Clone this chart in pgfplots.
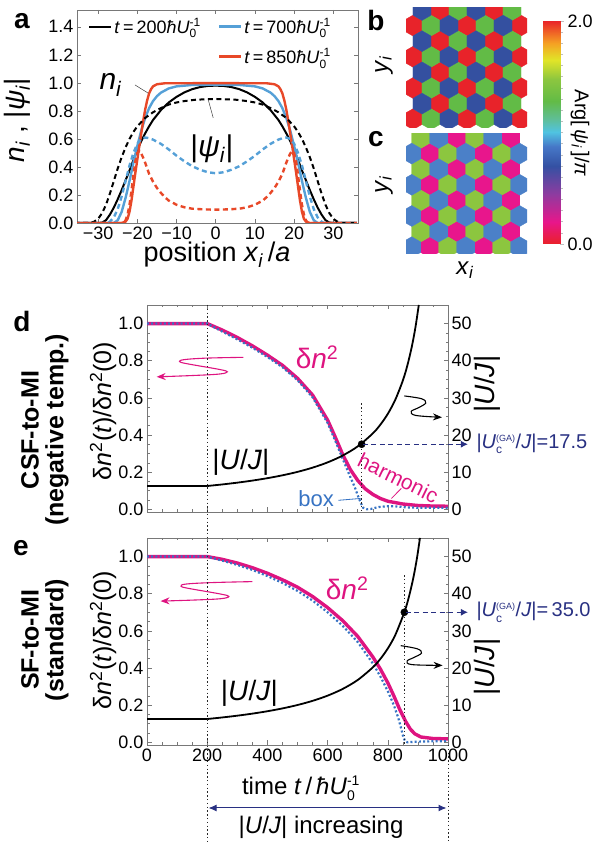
\documentclass[border=0pt]{standalone}
\usepackage{fontspec}
\setmainfont{Liberation Sans}
\usepackage{amsmath}
\usepackage{pgfplots}
\pgfplotsset{compat=1.18}
\usepackage{pgfplotstable}
\usetikzlibrary{arrows.meta}

\definecolor{cblue}{RGB}{85,160,215}
\definecolor{cred}{RGB}{232,72,40}
\definecolor{cmag}{RGB}{222,20,128}
\definecolor{cbox}{RGB}{55,115,195}
\definecolor{navy}{RGB}{40,48,130}
\definecolor{hR}{RGB}{232,35,42}
\definecolor{hG}{RGB}{98,187,70}
\definecolor{hB}{RGB}{52,80,160}
\definecolor{cP}{RGB}{232,22,140}
\definecolor{cL}{RGB}{140,198,63}
\definecolor{cB}{RGB}{75,128,200}
\definecolor{frame}{RGB}{120,120,120}

\newcommand{\fs}[1]{\fontsize{#1}{#1}\selectfont}
\newcommand{\hbarU}[1]{\textit{ħU}${}^{\text{\fs{#1}-1}}_{\text{\fs{#1}0}}$}

\pgfdeclareplotmark{hexa}{%
\pgfpathmoveto{\pgfqpointpolar{90}{\pgfplotmarksize}}%
\pgfpathlineto{\pgfqpointpolar{150}{\pgfplotmarksize}}%
\pgfpathlineto{\pgfqpointpolar{210}{\pgfplotmarksize}}%
\pgfpathlineto{\pgfqpointpolar{270}{\pgfplotmarksize}}%
\pgfpathlineto{\pgfqpointpolar{330}{\pgfplotmarksize}}%
\pgfpathlineto{\pgfqpointpolar{30}{\pgfplotmarksize}}%
\pgfpathclose\pgfusepathqfillstroke}

\pgfplotsset{
  colormap={phase}{rgb255(0pt)=(233,33,41); rgb255(20pt)=(232,22,138); rgb255(45pt)=(140,60,160); rgb255(70pt)=(52,81,163); rgb255(88pt)=(70,120,200); rgb255(100pt)=(80,195,225); rgb255(112pt)=(95,190,150); rgb255(128pt)=(98,187,70); rgb255(148pt)=(140,198,63); rgb255(165pt)=(225,228,40); rgb255(180pt)=(245,160,35); rgb255(200pt)=(233,36,41)},
  /pgf/number format/assume math mode=true,
  /pgf/number format/1000 sep={},
  every tick label/.append style={font=\fs{18}},
  every axis/.append style={axis line style={frame, line width=0.6pt}, tick style={frame, line width=0.5pt}},
}

% panel a data
\pgfplotstableread{
x y
-36 0
-30 0
-29 0.003
-28 0.02
-27 0.06
-26 0.11
-25 0.17
-24 0.235
-23 0.305
-22 0.375
-21 0.45
-20 0.52
-19 0.585
-18 0.64
-17 0.69
-16 0.735
-14 0.805
-12 0.86
-10 0.9
-8 0.932
-6 0.955
-4 0.97
-2 0.978
0 0.98
2 0.978
4 0.97
6 0.955
8 0.932
10 0.9
12 0.86
14 0.805
16 0.735
17 0.69
18 0.64
19 0.585
20 0.52
21 0.45
22 0.375
23 0.305
24 0.235
25 0.17
26 0.11
27 0.06
28 0.02
29 0.003
30 0
36 0
}\nA
\pgfplotstableread{
x y
-36 0
-32 0
-31 0.01
-30 0.03
-29 0.07
-28 0.13
-27 0.21
-26 0.3
-25 0.39
-24 0.47
-23 0.54
-22 0.6
-21 0.65
-20 0.69
-19 0.72
-18 0.75
-16 0.79
-14 0.82
-12 0.845
-10 0.86
-8 0.87
-5 0.88
0 0.885
5 0.88
8 0.87
10 0.86
12 0.845
14 0.82
16 0.79
18 0.75
19 0.72
20 0.69
21 0.65
22 0.6
23 0.54
24 0.47
25 0.39
26 0.3
27 0.21
28 0.13
29 0.07
30 0.03
31 0.01
32 0
36 0
}\pA
\pgfplotstableread{
x y
-36 0
-26 0
-25 0.02
-24 0.08
-23 0.18
-22 0.3
-21 0.43
-20 0.55
-19 0.66
-18 0.75
-17 0.82
-16 0.87
-15 0.905
-14 0.93
-12 0.96
-10 0.975
-6 0.985
0 0.987
6 0.985
10 0.975
12 0.96
14 0.93
15 0.905
16 0.87
17 0.82
18 0.75
19 0.66
20 0.55
21 0.43
22 0.3
23 0.18
24 0.08
25 0.02
26 0
36 0
}\nB
\pgfplotstableread{
x y
-36 0
-27.5 0
-27 0.01
-26 0.04
-25 0.1
-24 0.19
-23 0.3
-22 0.41
-21 0.5
-20 0.565
-19 0.6
-18 0.61
-17 0.605
-16 0.595
-14 0.565
-12 0.525
-10 0.48
-8 0.44
-6 0.405
-4 0.38
-2 0.362
0 0.355
2 0.362
4 0.38
6 0.405
8 0.44
10 0.48
12 0.525
14 0.565
16 0.595
17 0.605
18 0.61
19 0.6
20 0.565
21 0.5
22 0.41
23 0.3
24 0.19
25 0.1
26 0.04
27 0.01
27.5 0
36 0
}\pB
\pgfplotstableread{
x y
-36 0
-24 0
-23 0.01
-22.5 0.03
-22 0.08
-21.5 0.16
-21 0.26
-20.5 0.36
-20 0.455
-19.5 0.55
-19 0.64
-18.5 0.73
-18 0.81
-17.5 0.875
-17 0.925
-16.5 0.955
-16 0.975
-15 0.99
-13 0.997
0 0.998
13 0.997
15 0.99
16 0.975
16.5 0.955
17 0.925
17.5 0.875
18 0.81
18.5 0.73
19 0.64
19.5 0.55
20 0.455
20.5 0.36
21 0.26
21.5 0.16
22 0.08
22.5 0.03
23 0.01
24 0
36 0
}\nC
\pgfplotstableread{
x y
-36 0
-23.5 0
-23 0.02
-22.5 0.06
-22 0.13
-21.5 0.23
-21 0.34
-20.5 0.44
-20 0.5
-19.5 0.515
-19 0.495
-18.5 0.465
-18 0.43
-17 0.35
-16 0.295
-15 0.25
-14 0.215
-13 0.185
-12 0.16
-10 0.13
-8 0.112
-6 0.102
-3 0.097
0 0.095
3 0.097
6 0.102
8 0.112
10 0.13
12 0.16
13 0.185
14 0.215
15 0.25
16 0.295
17 0.35
18 0.43
18.5 0.465
19 0.495
19.5 0.515
20 0.5
20.5 0.44
21 0.34
21.5 0.23
22 0.13
22.5 0.06
23 0.02
23.5 0
36 0
}\pC

% panel d data
\pgfplotstableread{
t v
0 1
200 1
250 0.965
300 0.925
350 0.88
400 0.83
450 0.775
500 0.705
550 0.615
600 0.48
625 0.39
650 0.295
675 0.215
700 0.155
725 0.11
750 0.08
775 0.058
800 0.043
850 0.028
900 0.02
950 0.017
1000 0.016
}\magD
\pgfplotstableread{
t v
0 1
200 1
250 0.957
300 0.915
350 0.87
400 0.82
450 0.765
500 0.695
550 0.603
600 0.465
625 0.37
650 0.272
675 0.175
690 0.12
700 0.075
710 0.035
718 0.008
730 0.0
745 0.002
770 0.012
800 0.016
830 0.015
860 0.01
900 0.008
1000 0.008
}\boxD
\pgfplotstableread{
t u
200 6.25
250 6.671
300 7.152
350 7.709
400 8.358
450 9.128
500 10.053
550 11.189
600 12.611
650 14.451
700 16.915
750 20.398
775 22.735
800 25.678
825 29.502
850 34.66
865 38.72
880 43.86
892 49.07
902.9 55.01
}\ujD

% panel e data
\pgfplotstableread{
t v
0 1
200 1
250 0.985
300 0.965
350 0.94
400 0.91
450 0.875
500 0.835
550 0.785
600 0.725
650 0.655
700 0.57
750 0.46
775 0.395
800 0.32
820 0.25
840 0.175
860 0.11
875 0.07
890 0.045
910 0.028
950 0.02
1000 0.018
}\magE
\pgfplotstableread{
t v
0 1
200 1
250 0.978
300 0.955
350 0.928
400 0.895
450 0.858
500 0.815
550 0.763
600 0.7
650 0.627
700 0.54
750 0.425
775 0.355
800 0.275
820 0.2
835 0.13
845 0.07
852 0.025
858 0.005
865 0
900 0.003
950 0.005
1000 0.005
}\boxE
\pgfplotstableread{
t u
200 6.25
250 6.668
300 7.146
350 7.698
400 8.342
450 9.104
500 10.019
550 11.139
600 12.540
650 14.345
700 16.756
750 20.142
775 22.409
800 25.242
825 28.908
855 35.00
870 39.11
885 44.33
897 49.64
906.8 55.01
}\ujE

\tikzset{vdot/.style={black!85, line width=0.8pt, dash pattern=on 1.4pt off 2.4pt}}

\begin{document}
\begin{tikzpicture}
\useasboundingbox (0pt,0pt) rectangle (601pt,842pt);

%================ panel a
\begin{axis}[at={(77pt,619pt)}, anchor=south west, scale only axis, width=281pt, height=213pt,
  xmin=-35.4, xmax=36.3, ymin=0, ymax=1.52,
  xtick={-30,-20,-10,0,10,20,30}, xticklabels={−30,−20,−10,0,10,20,30},
  ytick={0,0.2,0.4,0.6,0.8,1.0,1.2,1.4},
  yticklabel style={/pgf/number format/.cd,fixed,fixed zerofill,precision=1},
  major tick length=4pt, clip mode=individual,
  legend columns=2,
  legend style={at={(axis description cs:0.04,0.97)}, anchor=north west, draw=none, fill=none, font=\fs{18}, inner sep=0pt, row sep=10pt, /tikz/every even column/.append style={column sep=15pt}},
  legend image code/.code={\draw[#1] (0pt,0pt) -- (22pt,0pt);},
]
\addplot[black, line width=2pt] table {\nA};
\addlegendentry{\textit{t}\,=\,200\hbarU{12}}
\addplot[cblue, line width=2.4pt] table {\nB};
\addlegendentry{\textit{t}\,=\,700\hbarU{12}}
\addlegendimage{empty legend}\addlegendentry{}
\addplot[cred, line width=2.4pt] table {\nC};
\addlegendentry{\textit{t}\,=\,850\hbarU{12}}
\addplot[black, line width=2pt, dash pattern=on 5pt off 3.5pt, forget plot] table {\pA};
\addplot[cblue, line width=2.4pt, dash pattern=on 5pt off 3.5pt, forget plot] table {\pB};
\addplot[cred, line width=2.4pt, dash pattern=on 5pt off 3.5pt, forget plot] table {\pC};
\draw[black!75, line width=0.5pt] (-20.6,0.985) -- (-17.2,0.926);
\node[font=\fs{30}] at (-26.8,0.985) {\textit{n}\textsubscript{\textit{i}}};
\draw[black!75, line width=0.5pt] (-0.64,0.75) -- (-1.9,0.878);
\node[font=\fs{30}] at (-1,0.53) {|\textit{ψ}\textsubscript{\textit{i}}|};
\end{axis}

%================ panel b
\begin{scope}
\clip (406pt,714pt) rectangle (527pt,834pt);
\begin{axis}[at={(406pt,714pt)}, anchor=south west, scale only axis, width=121pt, height=120pt,
  xmin=0, xmax=121, ymin=0, ymax=120, hide axis, clip=true]
\addplot[only marks, mark=hexa, mark size=10.45pt, mark options={fill=hR, draw=hR, line width=0.3pt}] coordinates {
(34,118)(88,118)(34,86.8)(88,86.8)(34,55.6)(88,55.6)(34,24.4)(88,24.4)(34,-6.8)(88,-6.8)
(7,102.4)(61,102.4)(115,102.4)(7,71.2)(61,71.2)(115,71.2)(7,40)(61,40)(115,40)(7,8.8)(61,8.8)(115,8.8)};
\addplot[only marks, mark=hexa, mark size=10.45pt, mark options={fill=hG, draw=hG, line width=0.3pt}] coordinates {
(-2,118)(52,118)(106,118)(-2,86.8)(52,86.8)(106,86.8)(-2,55.6)(52,55.6)(106,55.6)(-2,24.4)(52,24.4)(106,24.4)(-2,-6.8)(52,-6.8)(106,-6.8)
(25,102.4)(79,102.4)(25,71.2)(79,71.2)(25,40)(79,40)(25,8.8)(79,8.8)};
\addplot[only marks, mark=hexa, mark size=10.45pt, mark options={fill=hB, draw=hB, line width=0.3pt}] coordinates {
(16,118)(70,118)(124,118)(16,86.8)(70,86.8)(124,86.8)(16,55.6)(70,55.6)(124,55.6)(16,24.4)(70,24.4)(124,24.4)(16,-6.8)(70,-6.8)(124,-6.8)
(43,102.4)(97,102.4)(43,71.2)(97,71.2)(43,40)(97,40)(43,8.8)(97,8.8)};
\end{axis}
\end{scope}

%================ panel c
\begin{scope}
\clip (406pt,588pt) rectangle (527pt,708pt);
\begin{axis}[at={(406pt,588pt)}, anchor=south west, scale only axis, width=121pt, height=120pt,
  xmin=0, xmax=121, ymin=0, ymax=120, hide axis, clip=true]
\addplot[only marks, mark=hexa, mark size=10.45pt, mark options={fill=cP, draw=cP, line width=0.3pt}] coordinates {
(-3.3,116)(50.7,116)(104.7,116)(-3.3,84.8)(50.7,84.8)(104.7,84.8)(-3.3,53.6)(50.7,53.6)(104.7,53.6)(-3.3,22.4)(50.7,22.4)(104.7,22.4)(-3.3,-8.8)(50.7,-8.8)(104.7,-8.8)
(23.7,100.4)(77.7,100.4)(23.7,69.2)(77.7,69.2)(23.7,38)(77.7,38)(23.7,6.8)(77.7,6.8)};
\addplot[only marks, mark=hexa, mark size=10.45pt, mark options={fill=cL, draw=cL, line width=0.3pt}] coordinates {
(14.7,116)(68.7,116)(122.7,116)(14.7,84.8)(68.7,84.8)(122.7,84.8)(14.7,53.6)(68.7,53.6)(122.7,53.6)(14.7,22.4)(68.7,22.4)(122.7,22.4)(14.7,-8.8)(68.7,-8.8)(122.7,-8.8)
(41.7,100.4)(95.7,100.4)(41.7,69.2)(95.7,69.2)(41.7,38)(95.7,38)(41.7,6.8)(95.7,6.8)};
\addplot[only marks, mark=hexa, mark size=10.45pt, mark options={fill=cB, draw=cB, line width=0.3pt}] coordinates {
(32.7,116)(86.7,116)(32.7,84.8)(86.7,84.8)(32.7,53.6)(86.7,53.6)(32.7,22.4)(86.7,22.4)(32.7,-8.8)(86.7,-8.8)
(5.7,100.4)(59.7,100.4)(113.7,100.4)(5.7,69.2)(59.7,69.2)(113.7,69.2)(5.7,38)(59.7,38)(113.7,38)(5.7,6.8)(59.7,6.8)(113.7,6.8)};
\end{axis}
\end{scope}

%================ colorbar
\begin{axis}[at={(543pt,598pt)}, anchor=south west, scale only axis, width=17pt, height=223pt,
  xmin=0, xmax=1, ymin=0, ymax=2, axis line style={draw=none},
  xtick=\empty, ytick={0,2}, yticklabels={0.0,2.0},
  minor ytick={0.1,0.2,0.3,0.4,0.5,0.6,0.7,0.8,0.9,1.0,1.1,1.2,1.3,1.4,1.5,1.6,1.7,1.8,1.9},
  ytick pos=right, yticklabel pos=right, tick align=outside,
  major tick length=4pt, minor tick length=3pt,
  tick style={black!25, line width=0.5pt},
  colormap name=phase, point meta min=0, point meta max=2]
\addplot[patch, patch type=rectangle, shader=interp, point meta=y] coordinates {
(0,0)(1,0)(1,0.1)(0,0.1) (0,0.1)(1,0.1)(1,0.2)(0,0.2) (0,0.2)(1,0.2)(1,0.3)(0,0.3) (0,0.3)(1,0.3)(1,0.4)(0,0.4)
(0,0.4)(1,0.4)(1,0.5)(0,0.5) (0,0.5)(1,0.5)(1,0.6)(0,0.6) (0,0.6)(1,0.6)(1,0.7)(0,0.7) (0,0.7)(1,0.7)(1,0.8)(0,0.8)
(0,0.8)(1,0.8)(1,0.9)(0,0.9) (0,0.9)(1,0.9)(1,1.0)(0,1.0) (0,1.0)(1,1.0)(1,1.1)(0,1.1) (0,1.1)(1,1.1)(1,1.2)(0,1.2)
(0,1.2)(1,1.2)(1,1.3)(0,1.3) (0,1.3)(1,1.3)(1,1.4)(0,1.4) (0,1.4)(1,1.4)(1,1.5)(0,1.5) (0,1.5)(1,1.5)(1,1.6)(0,1.6)
(0,1.6)(1,1.6)(1,1.7)(0,1.7) (0,1.7)(1,1.7)(1,1.8)(0,1.8) (0,1.8)(1,1.8)(1,1.9)(0,1.9) (0,1.9)(1,1.9)(1,2.0)(0,2.0)};
\end{axis}

%================ panel d (left scale)
\begin{axis}[at={(147pt,330pt)}, anchor=south west, scale only axis, width=301pt, height=207pt,
  xmin=0, xmax=1000, ymin=-0.015, ymax=1.1,
  xtick={0,200,400,600,800,1000}, xticklabels={}, minor x tick num=3,
  ytick={0,0.2,0.4,0.6,0.8,1.0}, minor y tick num=3,
  yticklabel style={/pgf/number format/.cd,fixed,fixed zerofill,precision=1},
  major tick length=4.5pt, minor tick length=2.5pt, clip mode=individual]
\addplot[cmag, line width=3.4pt] table[x=t,y=v] {\magD};
\addplot[cbox, line width=2.2pt, dash pattern=on 2pt off 2.2pt] table[x=t,y=v] {\boxD};
\draw[vdot] (713,0.57) -- (713,-0.015);
\draw[cmag, line width=1.1pt, -{Stealth[length=9pt,width=7pt]}] plot[smooth, tension=0.6] coordinates {(320,0.818) (200,0.814) (125,0.806) (108,0.795) (135,0.783) (240,0.753) (267,0.74) (240,0.728) (150,0.72) (32,0.713)};
\draw[black, line width=1.1pt, -{Stealth[length=9pt,width=7pt]}] plot[smooth, tension=0.6] coordinates {(855,0.61) (912,0.595) (926,0.572) (900,0.545) (878,0.527) (893,0.505) (980,0.495)};
\node[text=cmag, font=\fs{28}] at (565,0.82) {δ\textit{n}\textsuperscript{2}};
\node[font=\fs{28}] at (312,0.25) {|\textit{U}/\textit{J}|};
\node[text=cmag, rotate=-26, font=\fs{21}] at (835,0.168) {harmonic};
\draw[cmag, line width=0.8pt] (845,0.112) -- (812,0.058);
\node[text=cbox, font=\fs{22}] at (562,0.055) {box};
\draw[cbox, line width=0.8pt] (636,0.048) -- (710,0.058);
\end{axis}
%================ panel d (right scale)
\begin{axis}[at={(147pt,330pt)}, anchor=south west, scale only axis, width=301pt, height=207pt,
  xmin=0, xmax=1000, ymin=-0.75, ymax=55, axis x line=none, axis y line*=right,
  ytick={0,10,20,30,40,50}, minor y tick num=3,
  major tick length=4.5pt, minor tick length=2.5pt, clip mode=individual]
\addplot[black, line width=1.8pt] coordinates {(0,6.25) (200,6.25)};
\addplot[black, line width=1.8pt, smooth] table[x=t,y=u] {\ujD};
\addplot[only marks, mark=*, mark size=3.6pt, black] coordinates {(713,17.5)};
\draw[navy, line width=0.9pt, dash pattern=on 5pt off 3.5pt, -{Latex[length=7pt,width=7pt]}] (717,17.5) -- (1066,17.5);
\node[anchor=west, text=navy, font=\fs{20}, inner sep=0pt] at (1094,17.5) {|\textit{U}${}^{\text{\fs{9}(GA)}}_{\text{\fs{12}c}}$/\textit{J}|=17.5};
\end{axis}

%================ panel e (left scale)
\begin{axis}[at={(147pt,97pt)}, anchor=south west, scale only axis, width=301pt, height=207pt,
  xmin=0, xmax=1000, ymin=-0.015, ymax=1.1,
  xtick={0,200,400,600,800,1000}, minor x tick num=3,
  ytick={0,0.2,0.4,0.6,0.8,1.0}, minor y tick num=3,
  yticklabel style={/pgf/number format/.cd,fixed,fixed zerofill,precision=1},
  major tick length=4.5pt, minor tick length=2.5pt, clip mode=individual]
\addplot[cmag, line width=3.4pt] table[x=t,y=v] {\magE};
\addplot[cbox, line width=2.2pt, dash pattern=on 2pt off 2.2pt] table[x=t,y=v] {\boxE};
\draw[vdot] (855,0.9) -- (855,-0.015);
\draw[cmag, line width=1.1pt, -{Stealth[length=9pt,width=7pt]}] plot[smooth, tension=0.6] coordinates {(350,0.865) (220,0.86) (130,0.852) (113,0.84) (140,0.828) (245,0.798) (272,0.785) (245,0.773) (160,0.766) (45,0.76)};
\draw[black, line width=1.1pt, -{Stealth[length=9pt,width=7pt]}] plot[smooth, tension=0.6] coordinates {(843,0.52) (898,0.503) (912,0.48) (885,0.455) (864,0.437) (880,0.418) (982,0.414)};
\node[text=cmag, font=\fs{28}] at (665,0.83) {δ\textit{n}\textsuperscript{2}};
\node[font=\fs{28}] at (340,0.265) {|\textit{U}/\textit{J}|};
\end{axis}
%================ panel e (right scale)
\begin{axis}[at={(147pt,97pt)}, anchor=south west, scale only axis, width=301pt, height=207pt,
  xmin=0, xmax=1000, ymin=-0.75, ymax=55, axis x line=none, axis y line*=right,
  ytick={0,10,20,30,40,50}, minor y tick num=3,
  major tick length=4.5pt, minor tick length=2.5pt, clip mode=individual]
\addplot[black, line width=1.8pt] coordinates {(0,6.25) (200,6.25)};
\addplot[black, line width=1.8pt, smooth] table[x=t,y=u] {\ujE};
\addplot[only marks, mark=*, mark size=3.6pt, black] coordinates {(855,35)};
\draw[navy, line width=0.9pt, dash pattern=on 5pt off 3.5pt, -{Latex[length=7pt,width=7pt]}] (859,35) -- (1066,35);
\node[anchor=west, text=navy, font=\fs{20}, inner sep=0pt] at (1094,35) {|\textit{U}${}^{\text{\fs{9}(GA)}}_{\text{\fs{12}c}}$/\textit{J}|=\,35.0};
\end{axis}

%================ absolute annotations
\draw[vdot] (207.2pt,537pt) -- (207.2pt,0pt);
\draw[vdot] (448pt,97pt) -- (448pt,0pt);
\draw[navy, line width=1pt, {Latex[length=8pt,width=7pt]}-{Latex[length=8pt,width=7pt]}] (208.5pt,34pt) -- (446.5pt,34pt);

\node[font=\fs{24}, inner sep=0pt] at (301pt,54pt) {time \textit{t}\,/\,\hbarU{14}};
\node[font=\fs{24}, inner sep=0pt] at (321pt,15pt) {|\textit{U}/\textit{J}| increasing};

\node[rotate=90, font=\fs{28}, inner sep=0pt] at (17pt,722pt) {\textit{n}\textsubscript{\textit{i}}\;,\;|\textit{ψ}\textsubscript{\textit{i}}|};
\node[font=\fs{27}, inner sep=0pt] at (217pt,587pt) {position \textit{x}\textsubscript{\textit{i}}\,/\textit{a}};

\node[rotate=90, font=\fs{25}, inner sep=0pt] at (103pt,431pt) {δ\textit{n}\textsuperscript{2}(\textit{t})/δ\textit{n}\textsuperscript{2}(0)};
\node[rotate=90, font=\fs{25}, inner sep=0pt] at (103pt,202pt) {δ\textit{n}\textsuperscript{2}(\textit{t})/δ\textit{n}\textsuperscript{2}(0)};
\node[rotate=90, font=\fs{28}, inner sep=0pt] at (487pt,458pt) {|\textit{U}/\textit{J}|};
\node[rotate=90, font=\fs{28}, inner sep=0pt] at (487pt,175pt) {|\textit{U}/\textit{J}|};

\node[rotate=90, font=\fs{25}\bfseries, inner sep=0pt] at (30pt,412pt) {CSF-to-MI};
\node[rotate=90, font=\fs{25}\bfseries, inner sep=0pt] at (57pt,412pt) {(negative temp.)};
\node[rotate=90, font=\fs{25}\bfseries, inner sep=0pt] at (30pt,202pt) {SF-to-MI};
\node[rotate=90, font=\fs{25}\bfseries, inner sep=0pt] at (57pt,202pt) {(standard)};

\node[font=\fs{28}\bfseries] at (22pt,821pt) {a};
\node[font=\fs{28}\bfseries] at (376pt,821pt) {b};
\node[font=\fs{28}\bfseries] at (376pt,703pt) {c};
\node[font=\fs{28}\bfseries] at (22pt,520pt) {d};
\node[font=\fs{28}\bfseries] at (21pt,294pt) {e};

\node[rotate=90, font=\fs{24}] at (384pt,777pt) {\textit{y}\textsubscript{\textit{i}}};
\node[rotate=90, font=\fs{24}] at (384pt,657pt) {\textit{y}\textsubscript{\textit{i}}};
\node[font=\fs{24}] at (465pt,572pt) {\textit{x}\textsubscript{\textit{i}}};
\node[rotate=-90, font=\fs{20}] at (580pt,709pt) {Arg[\,\textit{ψ}\textsubscript{\textit{i}}\,]/\textit{π}};
\end{tikzpicture}
\end{document}
